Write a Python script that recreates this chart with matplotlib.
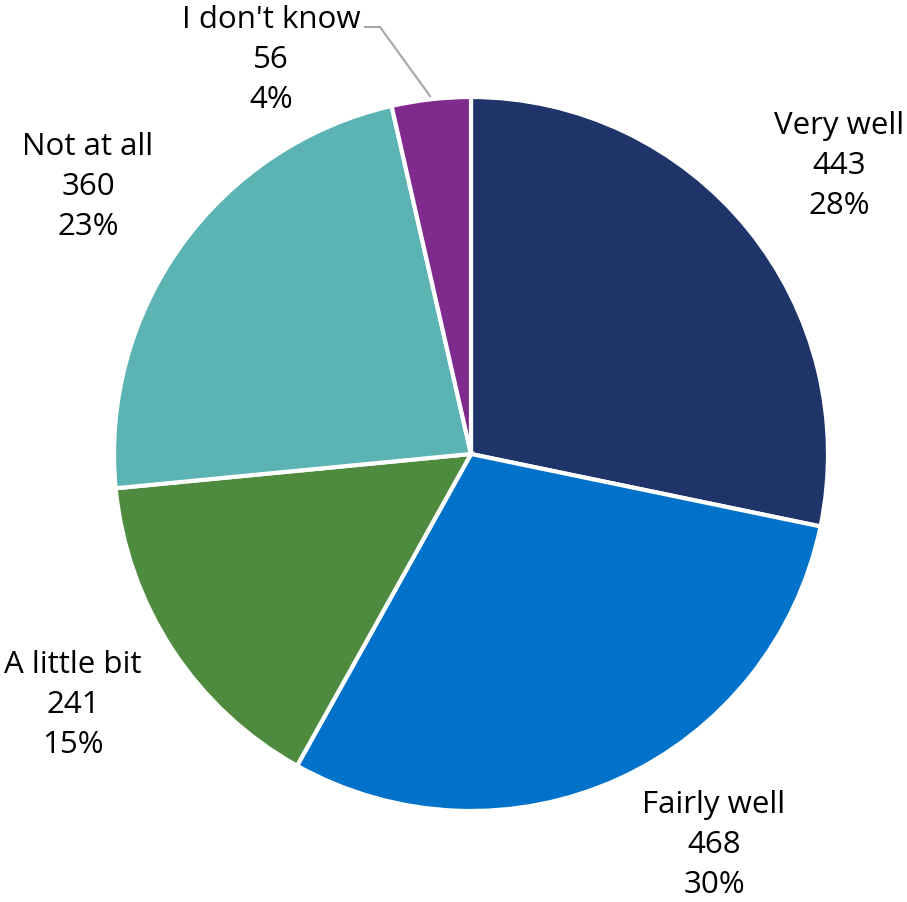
import matplotlib.pyplot as plt

# 饼图数据
categories = ["Very well", "Fairly well", "A little bit", "Not at all", "I don't know"]
counts = [443, 468, 241, 360, 56]
colors = ["#1F3468", "#0072C9", "#4E8B3F", "#5BB4B3", "#7F2B8E"]

# 标签位置 (像素, 左上角为原点)
label_pos = [(839, 166), (714, 845), (73, 705), (88, 187), (271, 60)]

W, H = 907, 903
fig = plt.figure(figsize=(W / 100, H / 100), dpi=100)
ax = fig.add_axes([0, 0, 1, 1])

ax.pie(
    counts,
    colors=colors,
    startangle=90,
    counterclock=False,
    center=(471, H - 455),
    radius=357,
    wedgeprops=dict(edgecolor="white", linewidth=3),
)
ax.set_xlim(0, W)
ax.set_ylim(0, H)
ax.set_aspect("equal")
ax.axis("off")

total = sum(counts)
for name, n, (x, y) in zip(categories, counts, label_pos):
    pct = round(n / total * 100)
    ax.text(
        x, H - y, f"{name}\n{n}\n{pct}%",
        ha="center", va="center", fontsize=22.5,
        family="Open Sans", linespacing=1.45, color="black",
    )

# "I don't know" 的引线
ax.plot([365, 380, 430], [H - 28, H - 28, H - 97], color="#A6A6A6", lw=1.5)

fig.savefig("out.png", dpi=100)
